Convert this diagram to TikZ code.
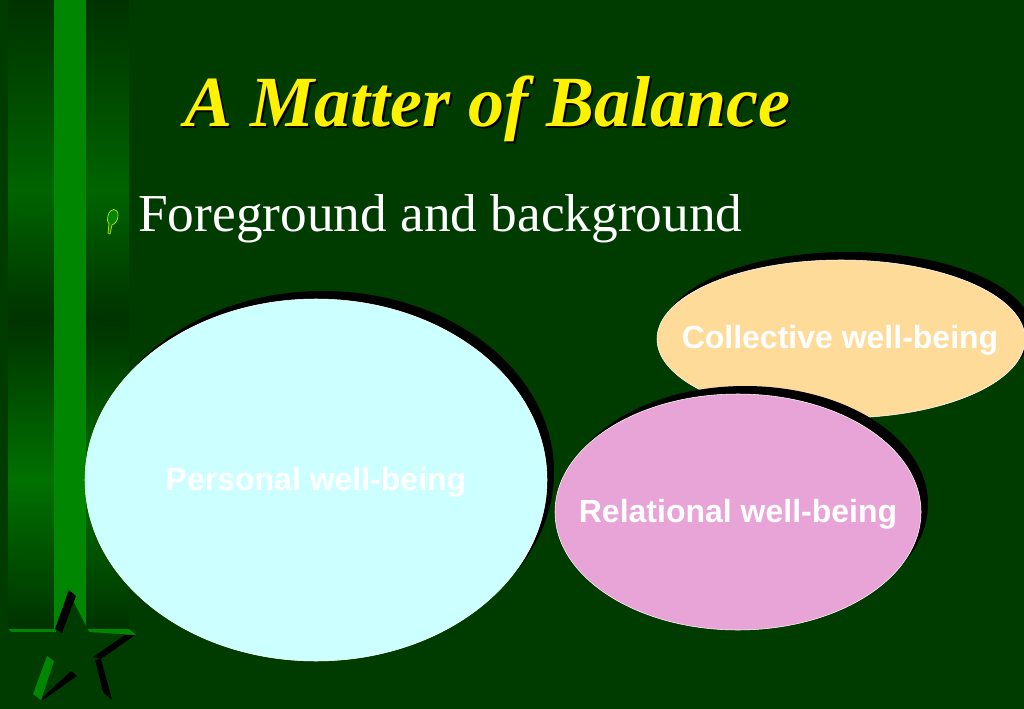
\documentclass[tikz,border=0pt]{standalone}
\usepackage{fontspec}
\setmainfont{Liberation Serif}
\setsansfont{Liberation Sans}
\usetikzlibrary{positioning}
\definecolor{slidegreen}{RGB}{0,60,0}
\definecolor{stripedark}{RGB}{0,50,0}
\definecolor{stripelight}{RGB}{0,134,0}
\definecolor{stripemid}{RGB}{0,100,0}
\definecolor{personalfill}{RGB}{204,255,255}
\definecolor{collectivefill}{RGB}{255,219,153}
\definecolor{relationalfill}{RGB}{232,163,215}
\tikzset{%
x=0.75pt, y=-0.75pt,
blob/.style={ellipse, draw=white, line width=0.4pt, inner sep=0pt, outer sep=0pt},
blob shade/.style={fill=black},
blob label/.style={font=\sffamily\bfseries\fontsize{24}{24}\selectfont, text=white, anchor=center},
strip dark/.style={top color=stripedark, bottom color=stripedark, middle color=stripemid},
}
\usetikzlibrary{shapes.geometric}
\begin{document}
\begin{tikzpicture}
\useasboundingbox (0,0) rectangle (1024,709);
\fill[slidegreen] (0,0) rectangle (1024,709);

% vertical strips
\foreach \xa/\xb in {8/54, 86/129}{
  \fill[top color=stripedark, bottom color=stripemid] (\xa,0) rectangle (\xb,190);
  \fill[top color=stripemid, bottom color=stripedark] (\xa,190) rectangle (\xb,320);
  \fill[top color=stripedark, bottom color=stripelight!75!stripedark] (\xa,320) rectangle (\xb,480);
  \fill[top color=stripelight!75!stripedark, bottom color=stripedark] (\xa,480) rectangle (\xb,630);
}
\fill[stripelight] (54,0) rectangle (86,630);
\fill[stripelight] (8,629) -- (129,629) -- (136,635) -- (15,635) -- cycle;

% star
\fill[slidegreen] (68,591) -- (89,632) -- (135,635) -- (96,659) -- (111,699) -- (76,676) -- (41,699) -- (54,659) -- (10,632) -- (56,632) -- cycle;
\fill[black] (69,590) -- (76,596) -- (62,633) -- (55,629) -- cycle;
\fill[black] (135,635) -- (101,659) -- (93,657) -- (125,635) -- cycle;
\fill[black] (95,660) -- (101,659) -- (112,700) -- (103,692) -- cycle;
\fill[black] (41,699) -- (71,671) -- (77,676) -- (43,700) -- cycle;
\fill[stripelight] (47,656) -- (54,661) -- (41,700) -- (33,694) -- cycle;

% texts
\node (title shade) [font=\bfseries\itshape\fontsize{54}{54}\selectfont, text=black] at (489,111) {A Matter of Balance};
\node (title) [font=\bfseries\itshape\fontsize{54}{54}\selectfont, text=yellow] at (487,109) {A Matter of Balance};
\node (bullet) [font=\fontsize{40}{40}\selectfont, text=white, anchor=base west, inner sep=0pt] at (138,232) {Foreground and background};
\draw[yellow!80!green, line width=0.5pt, fill=stripelight] (108,216) .. controls (110,207) and (118,208) .. (118,215) .. controls (118,222) and (114,224) .. (112,225) -- (110,234) -- (108,233) -- (109,224) .. controls (107,222) and (107,219) .. (108,216) -- cycle;

% ellipses
\node (personal-shade) [blob, draw=none, blob shade, minimum width=462pt*0.75, minimum height=362pt*0.75] at (323,472) {};
\node (personal) [blob, fill=personalfill, minimum width=462pt*0.75, minimum height=362pt*0.75] at (316,480) {};
\node [blob label] at (316,482) {Personal well-being};

\node (collective-shade) [blob, draw=none, blob shade, minimum width=368pt*0.75, minimum height=158pt*0.75] at (848,331) {};
\node (collective) [blob, fill=collectivefill, minimum width=368pt*0.75, minimum height=158pt*0.75] at (841,339) {};
\node [blob label] at (840,340) {Collective well-being};

\node (relational-shade) [blob, draw=none, blob shade, minimum width=366pt*0.75, minimum height=236pt*0.75] at (745,504) {};
\node (relational) [blob, fill=relationalfill, minimum width=366pt*0.75, minimum height=236pt*0.75] at (738,512) {};
\node [blob label] at (738,514) {Relational well-being};
\end{tikzpicture}
\end{document}
